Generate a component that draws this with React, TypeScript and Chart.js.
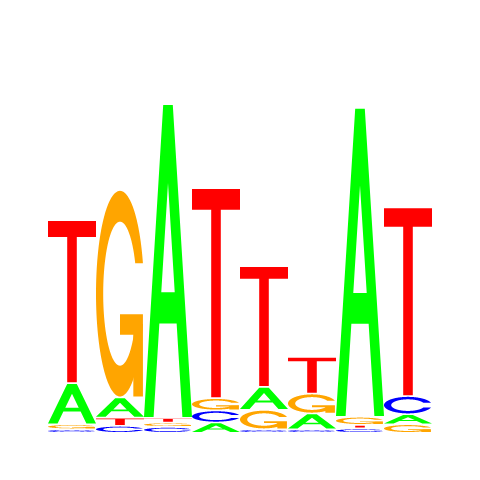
import React, { useEffect, useRef } from "react";
import { Chart, registerables } from "chart.js";

Chart.register(...registerables);

// Sequence logo data (heights in bits) per position
const positions = ["1", "2", "3", "4", "5", "6", "7", "8"];
const letters = ["A", "C", "G", "T"];
const heightA = [0.214, 0.106, 1.634, 0.045, 0.12, 0.082, 1.608, 0.052];
const heightC = [0.01, 0.028, 0.022, 0.063, 0.01, 0.01, 0.014, 0.095];
const heightG = [0.026, 1.08, 0.023, 0.064, 0.101, 0.104, 0.042, 0.036];
const heightT = [0.849, 0.042, 0.024, 1.094, 0.629, 0.191, 0.019, 0.983];
const letterColors = ["#00FF00", "#0000FF", "#FFA500", "#FF0000"];
const yMaxBits = 2;

type Pt = [number, number];

function seq(a: number, b: number, n: number): number[] {
  const out: number[] = [];
  for (let i = 0; i < n; i++) out.push(a + ((b - a) * i) / (n - 1));
  return out;
}

// seqLogo-style ring used by C and G
function ringPolygon(): Pt[] {
  const a1 = seq(0.3 + Math.PI / 2, Math.PI, 100);
  const a2 = seq(Math.PI, 1.5 * Math.PI, 100);
  const xl1 = a1.map((a) => 0.5 + 0.5 * Math.sin(a));
  const yl1 = a1.map((a) => 0.5 + 0.5 * Math.cos(a));
  const xl2 = a2.map((a) => 0.5 + 0.5 * Math.sin(a));
  const yl2 = a2.map((a) => 0.5 + 0.5 * Math.cos(a));
  const xl = [...xl1, ...xl2];
  const yl = [...yl1, ...yl2];
  const xo = [...xl, ...xl.slice().reverse()];
  const yo = [...yl, ...yl.slice().reverse().map((v) => 1 - v)];
  const maxY = Math.max(...yl1);
  const xi1a = a1.map((a) => 0.5 + 0.35 * Math.sin(a));
  const yi1a = a1.map((a) => 0.5 + 0.35 * Math.cos(a));
  const xi1: number[] = [];
  const yi1: number[] = [];
  yi1a.forEach((v, k) => {
    if (v <= maxY) {
      xi1.push(xi1a[k]);
      yi1.push(v);
    }
  });
  yi1[0] = maxY;
  const xi2 = a2.map((a) => 0.5 + 0.35 * Math.sin(a));
  const yi2 = a2.map((a) => 0.5 + 0.35 * Math.cos(a));
  const xi = [...xi1, ...xi2];
  const yi = [...yi1, ...yi2];
  const x1 = [...xi, ...xi.slice().reverse()];
  const y1 = [...yi, ...yi.slice().reverse().map((v) => 1 - v)];
  const X = [...xo, ...x1.slice().reverse()];
  const Y = [...yo, ...y1.slice().reverse()];
  return X.map((x, k) => [x, Y[k]] as Pt);
}

const RING = ringPolygon();
const R1 = 0.5 + 0.5 * Math.sin(0.3 + Math.PI / 2);

// Each glyph: list of parts; each part is list of subpaths filled together with evenodd
const GLYPHS: Record<string, Pt[][][]> = {
  A: [
    [
      [
        [0, 0], [0.4, 1], [0.6, 1], [1, 0], [0.8, 0], [0.68, 0.3], [0.32, 0.3], [0.2, 0], [0, 0],
      ],
      [
        [0.36, 0.4], [0.5, 0.75], [0.64, 0.4], [0.36, 0.4],
      ],
    ],
  ],
  T: [
    [
      [
        [0, 1], [1, 1], [1, 0.9], [0.6, 0.9], [0.6, 0], [0.4, 0], [0.4, 0.9], [0, 0.9],
      ],
    ],
  ],
  C: [[RING]],
  G: [
    [RING],
    [
      [
        [R1, 0.4], [0.5, 0.4], [0.5, 0.3], [R1 - 0.2, 0.3], [R1 - 0.2, 0], [R1, 0], [R1, 0.4],
      ],
    ],
  ],
};

const heightsByLetter = [heightA, heightC, heightG, heightT];

// Floating ranges: letters sorted ascending within each position (smallest at bottom)
function buildRanges(): { ranges: [number, number][][]; bottom: boolean[][] } {
  const ranges: [number, number][][] = letters.map(() => []);
  const bottom: boolean[][] = letters.map(() => []);
  positions.forEach((_, j) => {
    const order = letters.map((_, i) => i).sort((a, b) => heightsByLetter[a][j] - heightsByLetter[b][j]);
    let base = 0;
    order.forEach((i, rank) => {
      const h = heightsByLetter[i][j];
      ranges[i][j] = [base, base + h];
      bottom[i][j] = rank === 0;
      base += h;
    });
  });
  return { ranges, bottom };
}

const GAP = 1.7;

const logoPlugin = {
  id: "logoLetters",
  afterDatasetsDraw(chart: any) {
    const ctx: CanvasRenderingContext2D = chart.ctx;
    const { bottom } = buildRanges();
    chart.data.datasets.forEach((ds: any, i: number) => {
      const meta = chart.getDatasetMeta(i);
      const letter = letters[i];
      const glyph = GLYPHS[letter];
      meta.data.forEach((bar: any, j: number) => {
        const p = bar.getProps(["x", "y", "base", "width"], true);
        const left = p.x - p.width / 2;
        const w = p.width;
        const top = p.y;
        let bot = p.base;
        const full = bot - top;
        if (!bottom[i][j]) {
          bot = Math.max(top + Math.max(full - GAP, Math.min(full, 1)), top + 0.5);
        }
        const h = bot - top;
        if (h <= 0) return;
        ctx.save();
        ctx.fillStyle = letterColors[i];
        glyph.forEach((part) => {
          ctx.beginPath();
          part.forEach((sub) => {
            sub.forEach(([ux, uy], k) => {
              const X = left + ux * w;
              const Y = bot - uy * h;
              if (k === 0) ctx.moveTo(X, Y);
              else ctx.lineTo(X, Y);
            });
            ctx.closePath();
          });
          ctx.fill("evenodd");
        });
        ctx.restore();
      });
    });
  },
};

export default function App() {
  const ref = useRef<HTMLCanvasElement>(null);
  useEffect(() => {
    const canvas = ref.current;
    if (!canvas) return;
    const { ranges } = buildRanges();
    const chart = new Chart(canvas, {
      type: "bar",
      data: {
        labels: positions,
        datasets: letters.map((L, i) => ({
          label: L,
          data: ranges[i] as any,
          backgroundColor: "rgba(0,0,0,0)",
          borderWidth: 0,
          grouped: false,
          barPercentage: 1,
          categoryPercentage: 1,
        })),
      },
      options: {
        animation: false,
        responsive: false,
        layout: { padding: { left: 48, right: 48, top: 48, bottom: 48 } },
        plugins: { legend: { display: false }, tooltip: { enabled: false } },
        scales: {
          x: { display: false, offset: true },
          y: { display: false, min: 0, max: yMaxBits },
        },
      },
      plugins: [logoPlugin],
    });
    return () => chart.destroy();
  }, []);
  return (
    <div style={{ position: "absolute", left: 0, top: 0, width: 480, height: 480, background: "#ffffff" }}>
      <canvas ref={ref} width={480} height={480} style={{ display: "block", width: 480, height: 480 }} />
    </div>
  );
}
